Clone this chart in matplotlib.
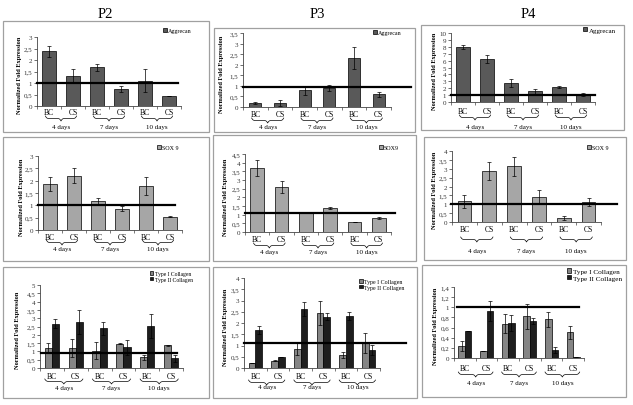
import numpy as np
import matplotlib
matplotlib.use("Agg")
import matplotlib.pyplot as plt
from matplotlib.patches import Rectangle
from matplotlib.ticker import FuncFormatter, MultipleLocator

plt.rcParams['font.family'] = ['Liberation Serif', 'DejaVu Serif']

# ---------------- data ----------------
passages = ['P2', 'P3', 'P4']
categories = ['BC', 'CS', 'BC', 'CS', 'BC', 'CS']
day_labels = ['4 days', '7 days', '10 days']
ylabel = 'Normalized Fold Expression'

agg_p2 = [2.37, 1.29, 1.68, 0.73, 1.10, 0.44]
agg_p2_err = [0.23, 0.30, 0.15, 0.12, 0.50, 0.0]
agg_p3 = [0.19, 0.19, 0.79, 0.90, 2.32, 0.60]
agg_p3_err = [0.04, 0.12, 0.20, 0.16, 0.52, 0.11]
agg_p4 = [7.97, 6.18, 2.80, 1.55, 2.17, 1.11]
agg_p4_err = [0.35, 0.58, 0.58, 0.38, 0.10, 0.24]

sox_p2 = [1.87, 2.20, 1.17, 0.87, 1.77, 0.53]
sox_p2_err = [0.27, 0.30, 0.14, 0.10, 0.37, 0.02]
sox_p3 = [3.70, 2.62, 1.11, 1.40, 0.56, 0.82]
sox_p3_err = [0.46, 0.35, 0.0, 0.05, 0.0, 0.06]
sox_p4 = [1.17, 2.88, 3.13, 1.43, 0.24, 1.12]
sox_p4_err = [0.37, 0.52, 0.56, 0.37, 0.11, 0.24]

col1_p2 = [1.20, 1.20, 1.04, 1.46, 0.64, 1.36]
col1_p2_err = [0.30, 0.54, 0.50, 0.04, 0.14, 0.02]
col2_p2 = [2.68, 2.78, 2.38, 1.24, 2.54, 0.58]
col2_p2_err = [0.30, 0.72, 0.42, 0.44, 0.74, 0.20]
col1_p3 = [0.22, 0.33, 0.84, 2.43, 0.59, 1.10]
col1_p3_err = [0.0, 0.02, 0.27, 0.53, 0.14, 0.44]
col2_p3 = [1.69, 0.49, 2.62, 2.28, 2.30, 0.80]
col2_p3_err = [0.19, 0.0, 0.30, 0.16, 0.17, 0.24]
col1_p4 = [0.24, 0.145, 0.68, 0.82, 0.76, 0.51]
col1_p4_err = [0.10, 0.0, 0.18, 0.25, 0.15, 0.13]
col2_p4 = [0.54, 0.92, 0.69, 0.73, 0.15, 0.013]
col2_p4_err = [0.0, 0.20, 0.15, 0.06, 0.06, 0.0]

ref_levels = [1.0, 0.95, 1.0, 1.0, 1.08, 1.0, 0.88, 1.11, 1.0]

# ---------------- style / layout ----------------
W, H = 633, 406
AGG_C = '#595959'
SOX_C = '#a6a6a6'
T1_C = '#858585'
T2_C = '#1e1e1e'

layout = [
    dict(L=37, R=181, T=38, B=107, ymax=3, step=0.5, hl=(0, 0.98), lab=113, br=117, day=128, ylx=20, leg=(163, 29), lfs=4.3),
    dict(L=243, R=391, T=34, B=108, ymax=3.5, step=0.5, hl=(0, 1.135), lab=115, br=119, day=128, ylx=222, leg=(373, 31), lfs=4.3),
    dict(L=451, R=595, T=34, B=103, ymax=10, step=1, hl=(0, 1.0), lab=112, br=116, day=127, ylx=434, leg=(583, 28), lfs=5.0),
    dict(L=38, R=182, T=157, B=231, ymax=3, step=0.5, hl=(0, 0.95), lab=238, br=241, day=250, ylx=22, leg=(157, 146), lfs=4.3),
    dict(L=245, R=391, T=155, B=233, ymax=4.5, step=0.5, hl=(0, 1.03), lab=240, br=244, day=253, ylx=226, leg=(379, 146), lfs=4.3),
    dict(L=452, R=601, T=152, B=223, ymax=4, step=0.5, hl=(-0.01, 1.11), lab=230, br=238, day=252, ylx=434, leg=(587, 146), lfs=4.3),
    dict(L=40, R=183, T=286, B=369, ymax=5, step=0.5, hl=(0.01, 0.96), lab=377, br=380, day=389, ylx=18, leg=(150, 272), lfs=4.1),
    dict(L=244, R=380, T=279, B=369, ymax=4, step=0.5, hl=(0, 1.19), lab=377, br=381, day=388, ylx=226, leg=(359, 280), lfs=4.2),
    dict(L=454, R=584, T=288, B=359, ymax=1.4, step=0.2, hl=(0.02, 0.96), lab=369, br=373, day=384, ylx=435, leg=(567, 269), lfs=5.2),
]

boxes = [
    (3, 22, 209, 133), (214, 29, 415, 133), (421, 26, 624, 131),
    (3, 138, 209, 262), (213, 136, 416, 262), (424, 138, 626, 261),
    (3, 268, 209, 399), (213, 268, 417, 399), (422, 266, 626, 398),
]

title_pos = [(105, 15), (317, 15), (528, 15)]

fig = plt.figure(figsize=(W / 100, H / 100), dpi=100)


def fx(x):
    return x / W


def fy(y):
    return 1 - y / H


for (x0, y0, x1, y1) in boxes:
    fig.patches.append(Rectangle((fx(x0), fy(y1)), (x1 - x0) / W, (y1 - y0) / H,
                                 transform=fig.transFigure, fill=False,
                                 ec='#a0a0a0', lw=0.9))

for name, (tx, ty) in zip(passages, title_pos):
    fig.text(fx(tx), fy(ty), name, ha='center', va='center', fontsize=10.5)


def fmt(v, _):
    s = ('%.2f' % v).rstrip('0').rstrip('.')
    return s.replace('.', ',')


def brace_curve(n=81, beta=45.0):
    xh = np.linspace(0, 0.5, n // 2 + 1)
    yh = 1 / (1 + np.exp(-beta * (xh - xh[0]))) + 1 / (1 + np.exp(-beta * (xh - xh[-1])))
    y = np.concatenate([yh, yh[-2::-1]])
    x = np.linspace(0, 1, len(y))
    y = (y - y.min()) / (y.max() - y.min())
    return x, y


bx, by = brace_curve()


def make_axes(lay):
    ax = fig.add_axes([fx(lay['L']), fy(lay['B']), (lay['R'] - lay['L']) / W,
                       (lay['B'] - lay['T']) / H])
    ax.set_xlim(-0.5, 5.5)
    ax.set_ylim(0, lay['ymax'])
    ax.yaxis.set_major_locator(MultipleLocator(lay['step']))
    ax.yaxis.set_major_formatter(FuncFormatter(fmt))
    ax.tick_params(axis='y', labelsize=5, length=2, width=0.5, pad=1.5, colors='#333333')
    ax.set_xticks(np.arange(-0.5, 6, 1))
    ax.tick_params(axis='x', labelbottom=False, length=2, width=0.5, colors='#444444')
    for s in ['top', 'right']:
        ax.spines[s].set_visible(False)
    for s in ['left', 'bottom']:
        ax.spines[s].set_linewidth(0.6)
        ax.spines[s].set_color('#444444')
    ax.patch.set_alpha(0)
    return ax


def decorate(ax, lay, ref, wide=False):
    hpx = lay['B'] - lay['T']

    def yfrac(ypix):
        return (lay['B'] - ypix) / hpx

    ax.axhline(ref, xmin=lay['hl'][0], xmax=lay['hl'][1], color='black', lw=1.6,
               clip_on=False, zorder=5)
    tr = ax.get_xaxis_transform()
    x = np.arange(len(categories))
    for xi, c in zip(x, categories):
        ax.text(xi, yfrac(lay['lab']), c, transform=tr, ha='center', va='center',
                fontsize=5.5, clip_on=False)
    for g, d in enumerate(day_labels):
        a = 2 * g - (0.3 if wide else 0.15)
        b = 2 * g + 1 + (0.3 if wide else 0.15)
        xs = a + bx * (b - a)
        ys = yfrac(lay['br']) - by * (5.0 / hpx)
        ax.plot(xs, ys, transform=tr, color='black', lw=0.5, clip_on=False)
        ax.text((a + b) / 2, yfrac(lay['day']), d, transform=tr, ha='center',
                va='center', fontsize=5, clip_on=False)
    fig.text(fx(lay['ylx']), fy((lay['T'] + lay['B']) / 2 + 3), ylabel, rotation=90,
             ha='center', va='center', fontsize=4.6, fontweight='bold')


def legend(ax, lay):
    lx, ly = lay['leg']
    ax.legend(loc='upper left', bbox_to_anchor=(fx(lx), fy(ly)),
              bbox_transform=fig.transFigure, frameon=False, fontsize=lay['lfs'],
              handlelength=0.6, handleheight=0.6, handletextpad=0.25,
              borderpad=0, borderaxespad=0, labelspacing=0.12)


err_kw = dict(ecolor='black', elinewidth=0.5, capsize=1.3, capthick=0.5)

single = [
    (agg_p2, agg_p2_err, AGG_C, 'Aggrecan', 0.55),
    (agg_p3, agg_p3_err, AGG_C, 'Aggrecan', 0.48),
    (agg_p4, agg_p4_err, AGG_C, 'Aggrecan', 0.55),
    (sox_p2, sox_p2_err, SOX_C, 'SOX 9', 0.55),
    (sox_p3, sox_p3_err, SOX_C, 'SOX9', 0.55),
    (sox_p4, sox_p4_err, SOX_C, 'SOX 9', 0.55),
]

for i, (vals, errs, col, lab, w) in enumerate(single):
    lay = layout[i]
    ax = make_axes(lay)
    x = np.arange(len(categories))
    ax.bar(x, vals, width=w, color=col, edgecolor='black', linewidth=0.5,
           yerr=errs, error_kw=err_kw, label=lab, zorder=3)
    decorate(ax, lay, ref_levels[i])
    legend(ax, lay)

pairs = [
    (col1_p2, col1_p2_err, col2_p2, col2_p2_err),
    (col1_p3, col1_p3_err, col2_p3, col2_p3_err),
    (col1_p4, col1_p4_err, col2_p4, col2_p4_err),
]

for j, (v1, e1, v2, e2) in enumerate(pairs):
    i = 6 + j
    lay = layout[i]
    ax = make_axes(lay)
    x = np.arange(len(categories))
    bw = 0.3
    ax.bar(x - bw / 2, v1, width=bw, color=T1_C, edgecolor='black', linewidth=0.5,
           yerr=e1, error_kw=err_kw, label='Type I Collagen', zorder=3)
    ax.bar(x + bw / 2, v2, width=bw, color=T2_C, edgecolor='black', linewidth=0.5,
           yerr=e2, error_kw=err_kw, label='Type II Collagen', zorder=3)
    decorate(ax, lay, ref_levels[i], wide=True)
    legend(ax, lay)

fig.savefig('out.png', dpi=100)
